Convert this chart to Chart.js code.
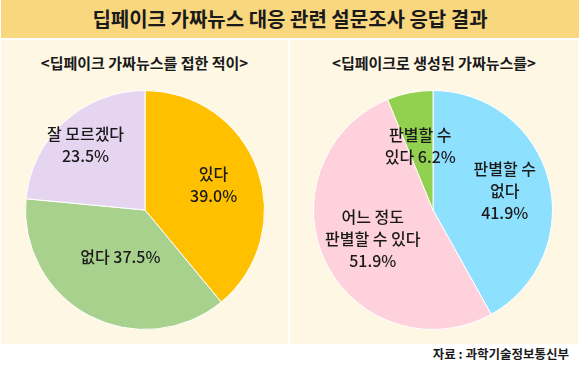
<!DOCTYPE html>
<html>
<head>
<meta charset="utf-8">
<script src="https://cdn.jsdelivr.net/npm/chart.js"></script>
<style>
  html, body { margin: 0; padding: 0; background: #fff; }
  body { width: 580px; height: 370px; position: relative; overflow: hidden;
         font-family: "Noto Sans CJK KR", "Noto Sans", sans-serif; color: #1a1a1a; }
  .titlebar { position: absolute; left: 1px; top: 0; width: 578px; height: 38px;
              background: #f9d77e; text-align: center; line-height: 38px;
              font-size: 20px; font-weight: 700; }
  .panel { position: absolute; top: 40px; height: 304px; background: #fef7e4; }
  .sub { position: absolute; left: 0; right: 0; top: 12px; text-align: center;
         font-size: 15px; line-height: 22px; font-weight: 700; }
  .pie { position: absolute; }
  .source { position: absolute; right: 11px; top: 344px; font-size: 12.5px; font-weight: 700; }
</style>
</head>
<body>
<div class="titlebar">딥페이크 가짜뉴스 대응 관련 설문조사 응답 결과</div>

<div class="panel" id="left-panel" style="left:1px; width:287px;">
  <div class="sub">&lt;딥페이크 가짜뉴스를 접한 적이&gt;</div>
  <canvas class="pie" id="leftPie" width="240" height="240" style="left:24px; top:50px;"></canvas>
</div>

<div class="panel" id="right-panel" style="left:290px; width:288px;">
  <div class="sub">&lt;딥페이크로 생성된 가짜뉴스를&gt;</div>
  <canvas class="pie" id="rightPie" width="240" height="240" style="left:23px; top:50px;"></canvas>
</div>

<div class="source">자료 : 과학기술정보통신부</div>

<script>
// Left chart: 딥페이크 가짜뉴스를 접한 적이
const leftCategories = ['있다', '없다', '잘 모르겠다'];
const leftValues = [39.0, 37.5, 23.5];
const leftColors = ['#ffc000', '#a9d18e', '#e6d5f1'];
const leftLabelLines = [['있다', '{v}'], ['없다 {v}'], ['잘 모르겠다', '{v}']];
const leftLabelRadius = [0.61, 0.44, 0.74];

// Right chart: 딥페이크로 생성된 가짜뉴스를
const rightCategories = ['판별할 수 없다', '어느 정도 판별할 수 있다', '판별할 수 있다'];
const rightValues = [41.9, 51.9, 6.2];
const rightColors = ['#8ee0ff', '#ffd1dc', '#92d050'];
const rightLabelLines = [['판별할 수', '없다', '{v}'], ['어느 정도', '판별할 수 있다', '{v}'], ['판별할 수', '있다 {v}']];
const rightLabelRadius = [0.62, 0.56, 0.55];

// draws the in-slice labels at the middle angle of each arc
const sliceLabels = {
  id: 'sliceLabels',
  afterDatasetsDraw(chart, args, opts) {
    const ctx = chart.ctx;
    const meta = chart.getDatasetMeta(0);
    const values = chart.data.datasets[0].data;
    ctx.save();
    ctx.font = '500 16px "Noto Sans CJK KR", sans-serif';
    ctx.fillStyle = '#1a1a1a';
    ctx.textAlign = 'center';
    ctx.textBaseline = 'middle';
    meta.data.forEach((arc, i) => {
      const mid = (arc.startAngle + arc.endAngle) / 2;
      const r = arc.outerRadius * opts.radius[i];
      const x = arc.x + Math.cos(mid) * r;
      const y = arc.y + Math.sin(mid) * r;
      const lines = opts.lines[i].map(l => l.replace('{v}', values[i].toFixed(1) + '%'));
      const lh = 22;
      lines.forEach((line, j) => {
        ctx.fillText(line, x, y + (j - (lines.length - 1) / 2) * lh);
      });
    });
    ctx.restore();
  }
};

function makePie(id, categories, values, colors, lines, radius) {
  new Chart(document.getElementById(id), {
    type: 'pie',
    data: {
      labels: categories,
      datasets: [{
        data: values,
        backgroundColor: colors,
        borderColor: '#ffffff',
        borderWidth: 1
      }]
    },
    options: {
      responsive: false,
      animation: false,
      layout: { padding: 0 },
      plugins: {
        legend: { display: false },
        tooltip: { enabled: false },
        sliceLabels: { lines: lines, radius: radius }
      }
    },
    plugins: [sliceLabels]
  });
}

makePie('leftPie', leftCategories, leftValues, leftColors, leftLabelLines, leftLabelRadius);
makePie('rightPie', rightCategories, rightValues, rightColors, rightLabelLines, rightLabelRadius);
</script>
</body>
</html>
